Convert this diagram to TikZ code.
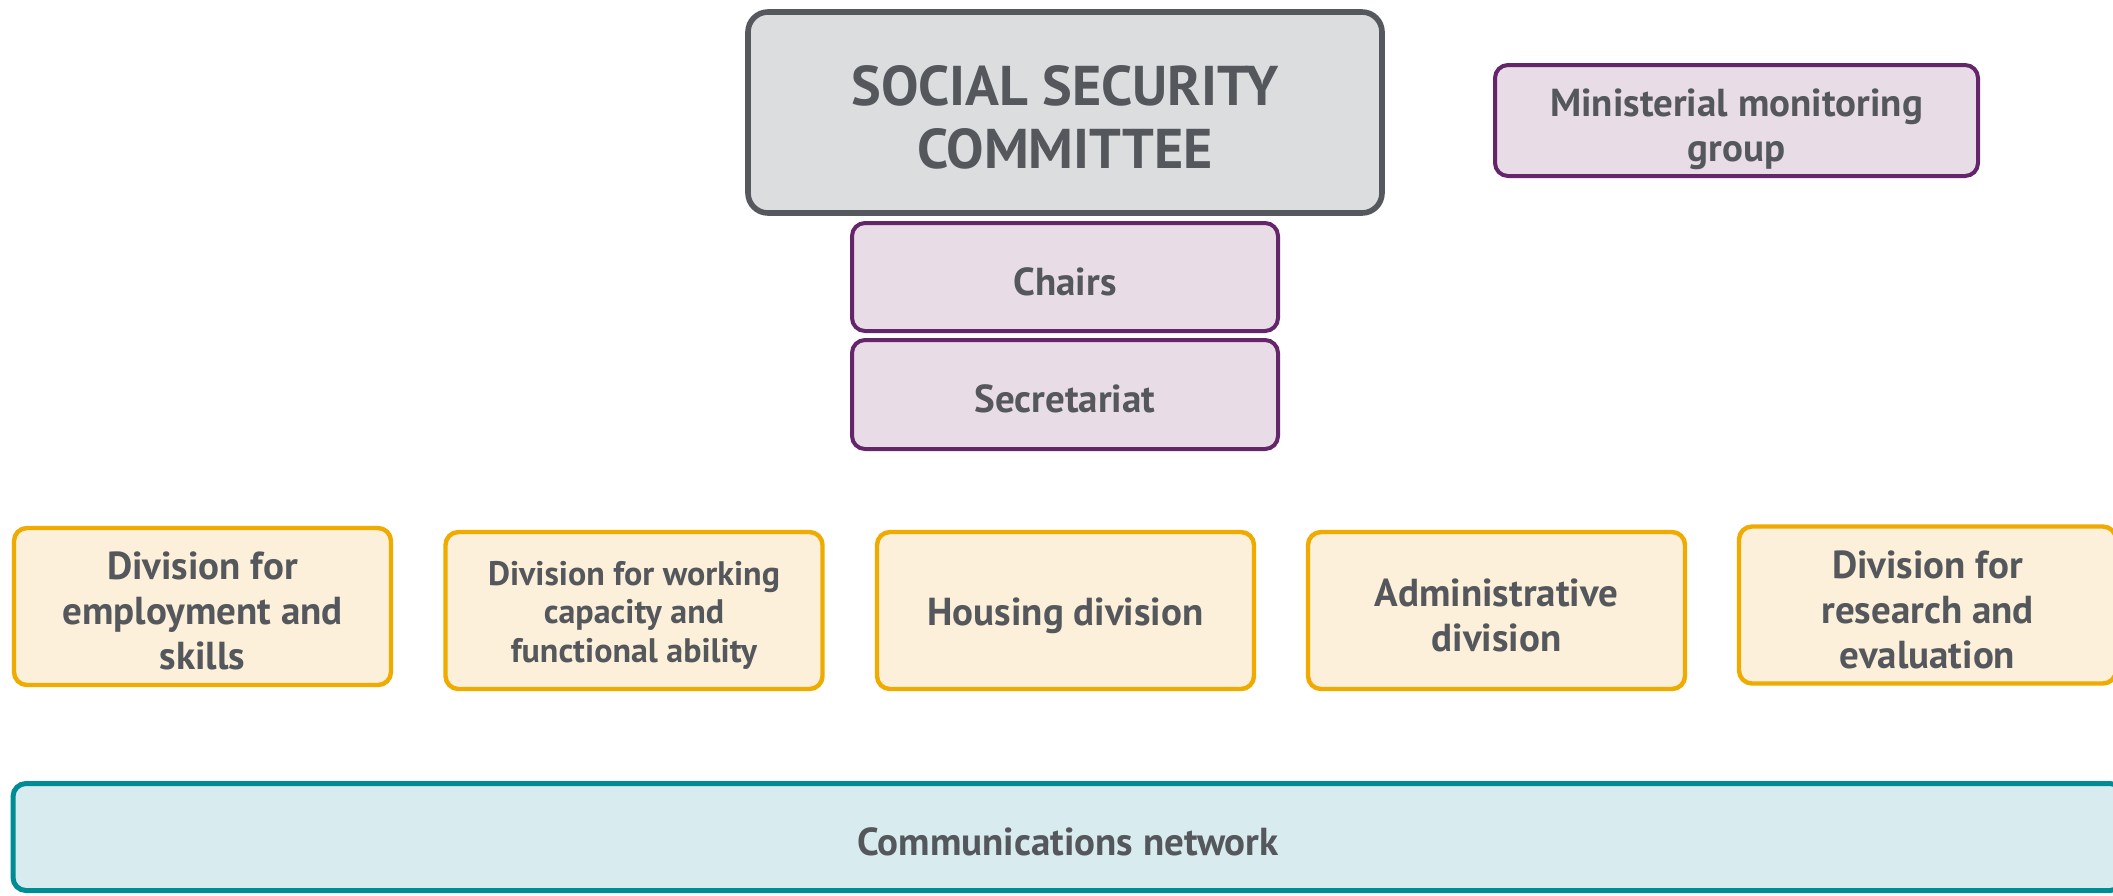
\documentclass[tikz,border=0pt]{standalone}
\usepackage{fontspec}
\setmainfont{PT Sans}
\definecolor{txt}{HTML}{54575B}
\definecolor{grayline}{HTML}{55585C}
\definecolor{grayfill}{HTML}{DCDDDF}
\definecolor{purpline}{HTML}{65256A}
\definecolor{purpfill}{HTML}{E8DDE7}
\definecolor{orline}{HTML}{F0AB00}
\definecolor{orfill}{HTML}{FCF0DA}
\definecolor{tealline}{HTML}{008C95}
\definecolor{tealfill}{HTML}{D8EBEE}
\tikzset{
  lbl/.style={align=center, text=txt, inner sep=0pt, yshift=-2.4pt, font=\bfseries\fontsize{19.5}{22.5}\selectfont},
  smalllbl/.style={lbl, font=\bfseries\fontsize{17}{19.3}\selectfont},
  titlelbl/.style={lbl, font=\bfseries\fontsize{28}{31.5}\selectfont},
  box/.style={rectangle, rounded corners=6.5pt, inner sep=0pt},
  committee/.style={box, draw=grayline, fill=grayfill, line width=2.8pt, rounded corners=10pt, minimum width=317pt, minimum height=100.5pt},
  purplebox/.style={box, draw=purpline, fill=purpfill, line width=2pt},
  divbox/.style={box, draw=orline, fill=orfill, line width=2.2pt, minimum width=188.5pt, minimum height=78.5pt},
  commbox/.style={box, draw=tealline, fill=tealfill, line width=2.5pt, minimum width=1055pt, minimum height=53.5pt}
}
\begin{document}
\begin{tikzpicture}[x=0.5pt,y=-0.5pt]
\useasboundingbox (0,0) rectangle (2113,895);
\node[committee, label={[titlelbl]center:{SOCIAL SECURITY\\COMMITTEE}}] (ssc) at (1065,112.5) {};
\node[purplebox, minimum width=241.5pt, minimum height=55.5pt, label={[lbl, yshift=-2pt]center:{Ministerial monitoring\\group}}] (mmg) at (1736.5,120.5) {};
\node[purplebox, minimum width=213pt, minimum height=54pt, label={[lbl]center:Chairs}] (chairs) at (1065,277) {};
\node[purplebox, minimum width=213pt, minimum height=54.5pt, label={[lbl]center:Secretariat}] (sec) at (1065,394.5) {};
\node[divbox, label={[lbl]center:{Division for\\employment and\\skills}}] (d1) at (202.5,606.5) {};
\node[divbox, label={[smalllbl]center:{Division for working\\capacity and\\functional ability}}] (d2) at (634,610.5) {};
\node[divbox, label={[lbl]center:Housing division}] (d3) at (1065.5,610.5) {};
\node[divbox, label={[lbl]center:{Administrative\\division}}] (d4) at (1496.5,610.5) {};
\node[divbox, label={[lbl]center:{Division for\\research and\\evaluation}}] (d5) at (1927.5,605) {};
\node[commbox, label={[lbl]center:Communications network}] (comm) at (1068,837) {};
\end{tikzpicture}
\end{document}
